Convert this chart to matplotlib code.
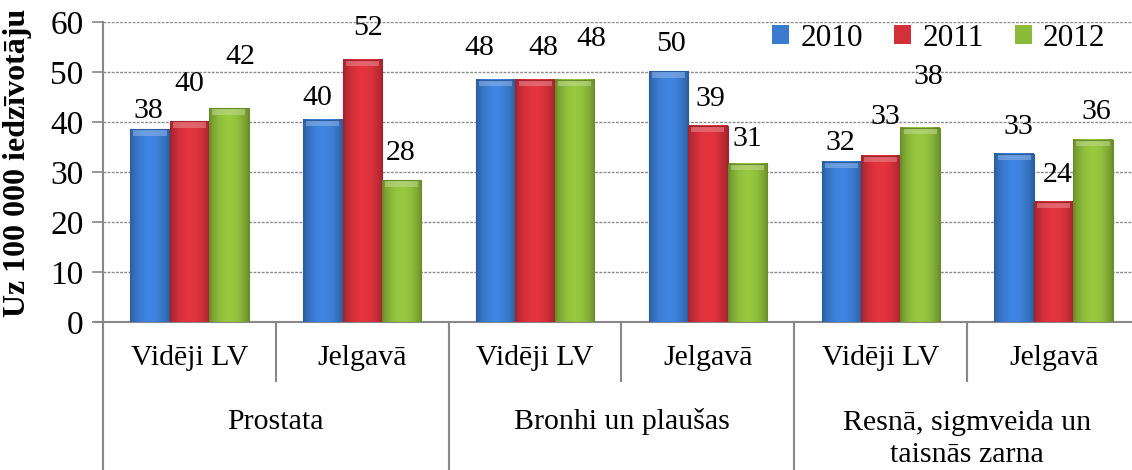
import numpy as np
import matplotlib
matplotlib.use("Agg")
import matplotlib.pyplot as plt
from matplotlib.patches import Patch
from matplotlib.colors import to_rgb
import matplotlib.transforms as mtransforms

plt.rcParams['font.family'] = ['Liberation Serif', 'DejaVu Serif']

# dati
years = ['2010', '2011', '2012']
sub_labels = ['Vidēji LV', 'Jelgavā', 'Vidēji LV', 'Jelgavā', 'Vidēji LV', 'Jelgavā']
groups = ['Prostata', 'Bronhi un plaušas', 'Resnā, sigmveida un\ntaisnās zarna']
v2010 = [38.6, 40.5, 48.5, 50.2, 32.1, 33.7]
v2011 = [40.2, 52.5, 48.5, 39.3, 33.3, 24.1]
v2012 = [42.8, 28.4, 48.5, 31.7, 38.9, 36.5]
series = [v2010, v2011, v2012]

# datu etiķešu novietojums (manuāli pārvietotas, kā oriģinālā)
lab_y = [[42.2, 44.8, 54.8, 55.6, 35.9, 38.9],
         [47.6, 58.8, 54.8, 44.7, 40.9, 29.4],
         [52.9, 33.8, 56.6, 36.6, 48.9, 42.0]]
lab_dx = [[-2, -6, -16, 3, -1, 4],
          [0, 6, 8, 2, 5, 4],
          [11, -1, 17, 0, 8, 3]]

colors = ['#3a7bd0', '#d4303a', '#8cba3a']
FS = 21.5

W, H = 1132, 470
fig = plt.figure(figsize=(W / 100, H / 100), dpi=100)
ax = fig.add_axes([103 / W, 1 - 322 / H, (1140 - 103) / W, 300 / H])

x = np.arange(len(sub_labels))
bw = 0.228


def shade_bar(ax, bar, color):
    # Excel stila slīpums: tumšākas malas, gaišāka augšmala
    c = np.array(to_rgb(color))
    nx, ny = 40, 120
    t = np.linspace(-1, 1, nx)
    prof = 1.08 - 0.30 * t ** 2
    img = np.clip(c[None, None, :] * prof[None, :, None] * np.ones((ny, 1, 1)), 0, 1)
    x0, y0 = bar.get_x(), bar.get_y()
    w, h = bar.get_width(), bar.get_height()
    ax.imshow(img, extent=[x0, x0 + w, y0, y0 + h], origin='lower',
              aspect='auto', zorder=3, interpolation='bilinear')
    cap = min(1.3, h)
    top = np.clip(c * 0.55 + 0.45, 0, 1)
    ax.fill_between([x0 + w * 0.08, x0 + w * 0.92], y0 + h - cap, y0 + h,
                    color=top, alpha=0.55, zorder=4, lw=0)
    ax.add_patch(plt.Rectangle((x0, y0), w, h, fill=False,
                               ec=tuple(c * 0.75), lw=0.8, zorder=5))


for k, vals in enumerate(series):
    bars = ax.bar(x + (k - 1) * bw, vals, bw, color=colors[k], zorder=2)
    for i, b in enumerate(bars):
        shade_bar(ax, b, colors[k])
        ax.annotate(str(int(vals[i])), (b.get_x() + bw / 2, lab_y[k][i]),
                    xytext=(lab_dx[k][i], 0), textcoords='offset pixels',
                    ha='center', va='center', fontsize=FS, zorder=6)

ax.set_xlim(-0.5, len(sub_labels) - 0.5)
ax.set_ylim(0, 60)
ax.set_yticks(range(0, 61, 10))
ax.tick_params(axis='y', labelsize=24, length=8, color='#888888', width=1.2, pad=6)
ax.set_xticks([])
ax.yaxis.grid(True, linestyle=(0, (2, 1)), color='#8c8c8c', lw=1)
ax.set_axisbelow(True)
for s in ['top', 'right']:
    ax.spines[s].set_visible(False)
for s in ['left', 'bottom']:
    ax.spines[s].set_color('#888888')
    ax.spines[s].set_linewidth(1.5)
ax.spines['bottom'].set_bounds(-0.5 - 8 / 172.8, len(sub_labels) - 0.5)

fig.text(18 / W, 1 - 163 / H, 'Uz 100 000 iedzīvotāju', rotation=90, fontsize=23,
         fontweight='bold', ha='center', va='center')

# daudzlīmeņu kategoriju ass
tr = mtransforms.blended_transform_factory(ax.transData, ax.transAxes)
for i in range(len(sub_labels) + 1):
    edge = i - 0.5
    depth = -0.51 if i % 2 == 0 else -0.195
    ax.plot([edge, edge], [0, depth], transform=tr, color='#888888', lw=1.5,
            clip_on=False, zorder=1)
for i, lab in enumerate(sub_labels):
    ax.text(i, -0.12, lab, transform=tr, ha='center', va='center', fontsize=FS)
for g, lab in enumerate(groups):
    yy = -0.333 if '\n' not in lab else -0.39
    ax.text(2 * g + 0.5, yy, lab, transform=tr, ha='center', va='center',
            fontsize=FS, linespacing=1.3)

handles = [Patch(facecolor=c, edgecolor='none') for c in colors]
fig.legend(handles, years, loc='center right', bbox_to_anchor=(1118 / W, 1 - 38 / H),
           ncol=3, frameon=False, fontsize=22.5, handlelength=0.55, handleheight=0.55,
           handletextpad=0.35, columnspacing=1.0, borderaxespad=0)

fig.savefig('out.png', dpi=100)
